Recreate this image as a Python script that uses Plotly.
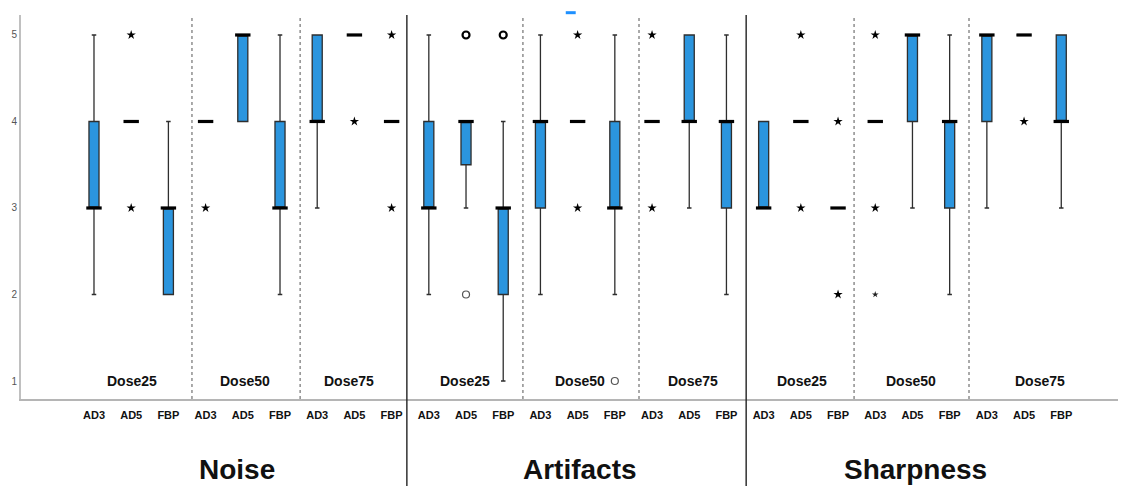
import plotly.graph_objects as go

# ---------------- data ----------------
metrics = ["Noise", "Artifacts", "Sharpness"]
doses = ["Dose25", "Dose50", "Dose75"]
methods = ["AD3", "AD5", "FBP"]

# box statistics, order: metric -> dose -> method (27 boxes)
q1 = [3, 4, 2,   4, 4, 3,   4, 5, 4,
      3, 3.5, 2, 3, 4, 3,   4, 4, 3,
      3, 4, 3,   4, 4, 3,   4, 5, 4]
median = [3, 4, 3,   4, 5, 3,   4, 5, 4,
          3, 4, 3,   4, 4, 3,   4, 4, 4,
          3, 4, 3,   4, 5, 4,   5, 5, 4]
q3 = [4, 4, 3,   4, 5, 4,   5, 5, 4,
      4, 4, 3,   4, 4, 4,   4, 5, 4,
      4, 4, 3,   4, 5, 4,   5, 5, 5]
lower = [2, 4, 2,   4, 4, 2,   3, 5, 4,
         2, 3, 1,   2, 4, 2,   4, 3, 2,
         3, 4, 3,   4, 3, 2,   3, 5, 3]
upper = [5, 4, 4,   4, 5, 5,   5, 5, 4,
         5, 4, 4,   5, 4, 5,   4, 5, 5,
         4, 4, 3,   4, 5, 5,   5, 5, 5]

# extreme values (stars): box index, value
star_box = [1, 1, 3, 7, 8, 8,
            13, 13, 15, 15,
            19, 19, 20, 20, 21, 21, 25]
star_val = [5, 3, 3, 4, 5, 3,
            5, 3, 5, 3,
            5, 3, 4, 2, 5, 3, 4]
small_star_box = [21]
small_star_val = [2]

# outliers (circles): box index, value
circle_bold_box = [10, 11]
circle_bold_val = [5, 5]
circle_light_box = [10, 14]
circle_light_val = [2, 1]

tick_text = methods * 9

# ---------------- figure ----------------
pos = list(range(len(median)))
BLUE = "#2b95de"

fig = go.Figure()
fig.add_trace(go.Box(
    x=pos, q1=q1, median=median, q3=q3, lowerfence=lower, upperfence=upper,
    width=0.27, whiskerwidth=0.45, boxpoints=False,
    fillcolor=BLUE, line=dict(color="#2e2e2e", width=1.3),
    showlegend=False, hoverinfo="skip"))

# thick medians
fig.add_trace(go.Scatter(
    x=pos, y=median, mode="markers", showlegend=False, hoverinfo="skip",
    marker=dict(symbol="line-ew", size=11, line=dict(color="black", width=3.2))))

fig.add_trace(go.Scatter(
    x=star_box, y=star_val, mode="markers", showlegend=False,
    marker=dict(symbol="star", size=7, color="black", line=dict(width=0))))
fig.add_trace(go.Scatter(
    x=small_star_box, y=small_star_val, mode="markers", showlegend=False,
    marker=dict(symbol="star", size=5, color="#222", line=dict(width=0))))
fig.add_trace(go.Scatter(
    x=circle_bold_box, y=circle_bold_val, mode="markers", showlegend=False,
    marker=dict(symbol="circle-open", size=7, color="black", line=dict(width=2.2))))
fig.add_trace(go.Scatter(
    x=circle_light_box, y=circle_light_val, mode="markers", showlegend=False,
    marker=dict(symbol="circle-open", size=7, color="#555", line=dict(width=1.2))))

# separators
dotted_x = [2.634, 5.54, 11.53, 14.65, 20.43, 23.52]
solid_x = [8.41, 17.53]
shapes = []
for xv in dotted_x:
    shapes.append(dict(type="line", xref="x", yref="paper", x0=xv, x1=xv, y0=0, y1=1,
                       line=dict(color="#555", width=1, dash="dot")))
for xv in solid_x:
    shapes.append(dict(type="line", xref="x", yref="paper", x0=xv, x1=xv, y0=-0.23, y1=1,
                       line=dict(color="#222", width=1.4)))
# small blue mark at top
shapes.append(dict(type="line", xref="paper", yref="paper", x0=0.493, x1=0.502,
                   y0=1.006, y1=1.006, line=dict(color="#1e90ff", width=3)))

annotations = []
dose_offsets = [0.02, 0.06, -0.15, -0.03, 0.06, 0.1, 0.03, -0.04, 0.43]
for m in range(3):
    for d in range(3):
        g = m * 3 + d
        annotations.append(dict(
            x=g * 3 + 1 + dose_offsets[g], y=1, xref="x", yref="y",
            text=f"<b>{doses[d]}</b>", showarrow=False,
            font=dict(family="Liberation Sans, Arial", size=14, color="#111")))
title_x = [237, 580, 915]
for m in range(3):
    annotations.append(dict(
        x=(title_x[m] - 94) / 37.2, y=-0.183, xref="x", yref="paper",
        text=f"<b>{metrics[m]}</b>", showarrow=False, yanchor="middle",
        font=dict(family="Liberation Sans, Arial", size=28, color="#111")))

# the page body adds an 8px offset, so the figure is sized to fit the window
fig.update_layout(
    width=1118, height=478,
    margin=dict(l=13, r=0, t=7, b=87),
    paper_bgcolor="white", plot_bgcolor="white",
    shapes=shapes, annotations=annotations,
    showlegend=False,
    xaxis=dict(range=[-1.962, 27.74], tickvals=pos, ticktext=[f"<b>{t}</b>" for t in tick_text],
               showgrid=False, zeroline=False, showline=True, linecolor="#b5b5b5", linewidth=2,
               ticks="", ticklabelstandoff=5,
               tickfont=dict(family="Liberation Sans, Arial", size=11, color="#111"),
               fixedrange=True, automargin=False),
    yaxis=dict(range=[0.792, 5.231], tickvals=[1, 2, 3, 4, 5],
               showgrid=False, zeroline=False, showline=True, linecolor="#c0c0c0", linewidth=2,
               ticks="", tickfont=dict(family="Liberation Sans, Arial", size=10, color="#555"),
               fixedrange=True, automargin=False),
)

fig.write_html("out.html")
